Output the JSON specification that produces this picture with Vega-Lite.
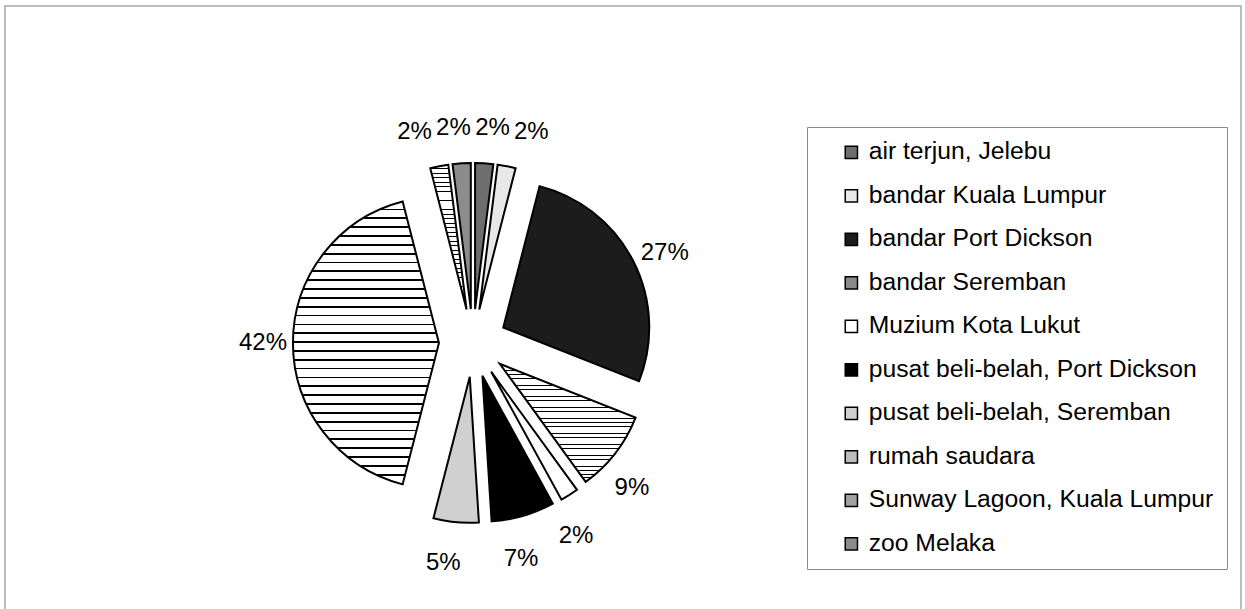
{
  "$schema": "https://vega.github.io/schema/vega-lite/v6.json",
  "width": 1236,
  "height": 620,
  "padding": {"left": 5, "top": 6, "right": 4, "bottom": 0},
  "autosize": {"type": "none"},
  "background": "white",
  "config": {
    "view": {"stroke": "#a8a8a8", "strokeWidth": 1.5},
    "font": "Liberation Sans"
  },
  "data": {
    "values": [
      {"rank": 1, "place": "air terjun, Jelebu", "v": 0.02},
      {"rank": 2, "place": "bandar Kuala Lumpur", "v": 0.02},
      {"rank": 3, "place": "bandar Port Dickson", "v": 0.27},
      {"rank": 4, "place": "bandar Seremban", "v": 0.09},
      {"rank": 5, "place": "Muzium Kota Lukut", "v": 0.02},
      {"rank": 6, "place": "pusat beli-belah, Port Dickson", "v": 0.07},
      {"rank": 7, "place": "pusat beli-belah, Seremban", "v": 0.05},
      {"rank": 8, "place": "rumah saudara", "v": 0.42},
      {"rank": 9, "place": "Sunway Lagoon, Kuala Lumpur", "v": 0.02},
      {"rank": 10, "place": "zoo Melaka", "v": 0.02}
    ]
  },
  "layer": [
    {
      "mark": {
        "type": "arc",
        "radius": 146,
        "stroke": "black",
        "strokeWidth": 2,
        "xOffset": {"expr": "34*sin(scale('theta', (datum.v_start + datum.v_end)/2))"},
        "yOffset": {"expr": "-34*cos(scale('theta', (datum.v_start + datum.v_end)/2))"}
      },
      "encoding": {
        "x": {"value": {"expr": "width*0.3786"}},
        "y": {"value": {"expr": "height*0.5435"}},
        "theta": {"field": "v", "type": "quantitative", "stack": true},
        "order": {"field": "rank", "type": "quantitative"},
        "color": {
          "condition": [
            {
              "test": "datum.place == 'bandar Seremban' || datum.place == 'rumah saudara' || datum.place == 'Sunway Lagoon, Kuala Lumpur'",
              "value": {
                "gradient": "linear", "x1": 0, "y1": 0, "x2": 0, "y2": 1,
                "stops": [
                  {"offset": 0, "color": "#fff"}, {"offset": 0.025, "color": "#fff"}, {"offset": 0.025, "color": "#000"}, {"offset": 0.03125, "color": "#000"},
                  {"offset": 0.03125, "color": "#fff"}, {"offset": 0.05625, "color": "#fff"}, {"offset": 0.05625, "color": "#000"}, {"offset": 0.0625, "color": "#000"},
                  {"offset": 0.0625, "color": "#fff"}, {"offset": 0.0875, "color": "#fff"}, {"offset": 0.0875, "color": "#000"}, {"offset": 0.09375, "color": "#000"},
                  {"offset": 0.09375, "color": "#fff"}, {"offset": 0.11875, "color": "#fff"}, {"offset": 0.11875, "color": "#000"}, {"offset": 0.125, "color": "#000"},
                  {"offset": 0.125, "color": "#fff"}, {"offset": 0.15, "color": "#fff"}, {"offset": 0.15, "color": "#000"}, {"offset": 0.15625, "color": "#000"},
                  {"offset": 0.15625, "color": "#fff"}, {"offset": 0.18125, "color": "#fff"}, {"offset": 0.18125, "color": "#000"}, {"offset": 0.1875, "color": "#000"},
                  {"offset": 0.1875, "color": "#fff"}, {"offset": 0.2125, "color": "#fff"}, {"offset": 0.2125, "color": "#000"}, {"offset": 0.21875, "color": "#000"},
                  {"offset": 0.21875, "color": "#fff"}, {"offset": 0.24375, "color": "#fff"}, {"offset": 0.24375, "color": "#000"}, {"offset": 0.25, "color": "#000"},
                  {"offset": 0.25, "color": "#fff"}, {"offset": 0.275, "color": "#fff"}, {"offset": 0.275, "color": "#000"}, {"offset": 0.28125, "color": "#000"},
                  {"offset": 0.28125, "color": "#fff"}, {"offset": 0.30625, "color": "#fff"}, {"offset": 0.30625, "color": "#000"}, {"offset": 0.3125, "color": "#000"},
                  {"offset": 0.3125, "color": "#fff"}, {"offset": 0.3375, "color": "#fff"}, {"offset": 0.3375, "color": "#000"}, {"offset": 0.34375, "color": "#000"},
                  {"offset": 0.34375, "color": "#fff"}, {"offset": 0.36875, "color": "#fff"}, {"offset": 0.36875, "color": "#000"}, {"offset": 0.375, "color": "#000"},
                  {"offset": 0.375, "color": "#fff"}, {"offset": 0.4, "color": "#fff"}, {"offset": 0.4, "color": "#000"}, {"offset": 0.40625, "color": "#000"},
                  {"offset": 0.40625, "color": "#fff"}, {"offset": 0.43125, "color": "#fff"}, {"offset": 0.43125, "color": "#000"}, {"offset": 0.4375, "color": "#000"},
                  {"offset": 0.4375, "color": "#fff"}, {"offset": 0.4625, "color": "#fff"}, {"offset": 0.4625, "color": "#000"}, {"offset": 0.46875, "color": "#000"},
                  {"offset": 0.46875, "color": "#fff"}, {"offset": 0.49375, "color": "#fff"}, {"offset": 0.49375, "color": "#000"}, {"offset": 0.5, "color": "#000"},
                  {"offset": 0.5, "color": "#fff"}, {"offset": 0.525, "color": "#fff"}, {"offset": 0.525, "color": "#000"}, {"offset": 0.53125, "color": "#000"},
                  {"offset": 0.53125, "color": "#fff"}, {"offset": 0.55625, "color": "#fff"}, {"offset": 0.55625, "color": "#000"}, {"offset": 0.5625, "color": "#000"},
                  {"offset": 0.5625, "color": "#fff"}, {"offset": 0.5875, "color": "#fff"}, {"offset": 0.5875, "color": "#000"}, {"offset": 0.59375, "color": "#000"},
                  {"offset": 0.59375, "color": "#fff"}, {"offset": 0.61875, "color": "#fff"}, {"offset": 0.61875, "color": "#000"}, {"offset": 0.625, "color": "#000"},
                  {"offset": 0.625, "color": "#fff"}, {"offset": 0.65, "color": "#fff"}, {"offset": 0.65, "color": "#000"}, {"offset": 0.65625, "color": "#000"},
                  {"offset": 0.65625, "color": "#fff"}, {"offset": 0.68125, "color": "#fff"}, {"offset": 0.68125, "color": "#000"}, {"offset": 0.6875, "color": "#000"},
                  {"offset": 0.6875, "color": "#fff"}, {"offset": 0.7125, "color": "#fff"}, {"offset": 0.7125, "color": "#000"}, {"offset": 0.71875, "color": "#000"},
                  {"offset": 0.71875, "color": "#fff"}, {"offset": 0.74375, "color": "#fff"}, {"offset": 0.74375, "color": "#000"}, {"offset": 0.75, "color": "#000"},
                  {"offset": 0.75, "color": "#fff"}, {"offset": 0.775, "color": "#fff"}, {"offset": 0.775, "color": "#000"}, {"offset": 0.78125, "color": "#000"},
                  {"offset": 0.78125, "color": "#fff"}, {"offset": 0.80625, "color": "#fff"}, {"offset": 0.80625, "color": "#000"}, {"offset": 0.8125, "color": "#000"},
                  {"offset": 0.8125, "color": "#fff"}, {"offset": 0.8375, "color": "#fff"}, {"offset": 0.8375, "color": "#000"}, {"offset": 0.84375, "color": "#000"},
                  {"offset": 0.84375, "color": "#fff"}, {"offset": 0.86875, "color": "#fff"}, {"offset": 0.86875, "color": "#000"}, {"offset": 0.875, "color": "#000"},
                  {"offset": 0.875, "color": "#fff"}, {"offset": 0.9, "color": "#fff"}, {"offset": 0.9, "color": "#000"}, {"offset": 0.90625, "color": "#000"},
                  {"offset": 0.90625, "color": "#fff"}, {"offset": 0.93125, "color": "#fff"}, {"offset": 0.93125, "color": "#000"}, {"offset": 0.9375, "color": "#000"},
                  {"offset": 0.9375, "color": "#fff"}, {"offset": 0.9625, "color": "#fff"}, {"offset": 0.9625, "color": "#000"}, {"offset": 0.96875, "color": "#000"},
                  {"offset": 0.96875, "color": "#fff"}, {"offset": 0.99375, "color": "#fff"}, {"offset": 0.99375, "color": "#000"}, {"offset": 1, "color": "#000"}
                ]
              }
            }
          ],
          "field": "place",
          "type": "nominal",
          "scale": {
            "domain": ["air terjun, Jelebu", "bandar Kuala Lumpur", "bandar Port Dickson", "bandar Seremban", "Muzium Kota Lukut", "pusat beli-belah, Port Dickson", "pusat beli-belah, Seremban", "rumah saudara", "Sunway Lagoon, Kuala Lumpur", "zoo Melaka"],
            "range": ["#6e6e6e", "#e8e8e8", "#1c1c1c", "#8a8a8a", "#ffffff", "#000000", "#d0d0d0", "#bcbcbc", "#a0a0a0", "#8c8c8c"]
          },
          "legend": {
            "title": null,
            "orient": "none",
            "legendX": 802,
            "legendY": 121,
            "padding": 13,
            "symbolOffset": 19,
            "strokeColor": "#8a8a8a",
            "fillColor": "white",
            "symbolType": "square",
            "symbolSize": 150,
            "symbolStrokeColor": "black",
            "symbolStrokeWidth": 1.5,
            "labelFont": "Liberation Sans",
            "labelFontSize": 24.7,
            "labelColor": "black",
            "labelOffset": 5,
            "labelLimit": 500,
            "rowPadding": 17.5
          }
        }
      }
    },
    {
      "mark": {
        "type": "text",
        "radius": 0,
        "fontSize": 24,
        "font": "Liberation Sans",
        "color": "black",
        "xOffset": {"expr": "cos(scale('theta', (datum.v_start + datum.v_end)/2)) > 0.9 ? 1.45*215*sin(scale('theta', (datum.v_start + datum.v_end)/2)) : 210*sin(scale('theta', (datum.v_start + datum.v_end)/2) + 0.052*(1 + min(0, sin(scale('theta', (datum.v_start + datum.v_end)/2)))))"},
        "yOffset": {"expr": "cos(scale('theta', (datum.v_start + datum.v_end)/2)) > 0.9 ? -215*cos(scale('theta', (datum.v_start + datum.v_end)/2)) : -222*cos(scale('theta', (datum.v_start + datum.v_end)/2) + 0.052*(1 + min(0, sin(scale('theta', (datum.v_start + datum.v_end)/2)))))"}
      },
      "encoding": {
        "x": {"value": {"expr": "width*0.3786"}},
        "y": {"value": {"expr": "height*0.5435"}},
        "theta": {"field": "v", "type": "quantitative", "stack": true},
        "order": {"field": "rank", "type": "quantitative"},
        "text": {"field": "v", "type": "quantitative", "format": ".0%"}
      }
    }
  ]
}
